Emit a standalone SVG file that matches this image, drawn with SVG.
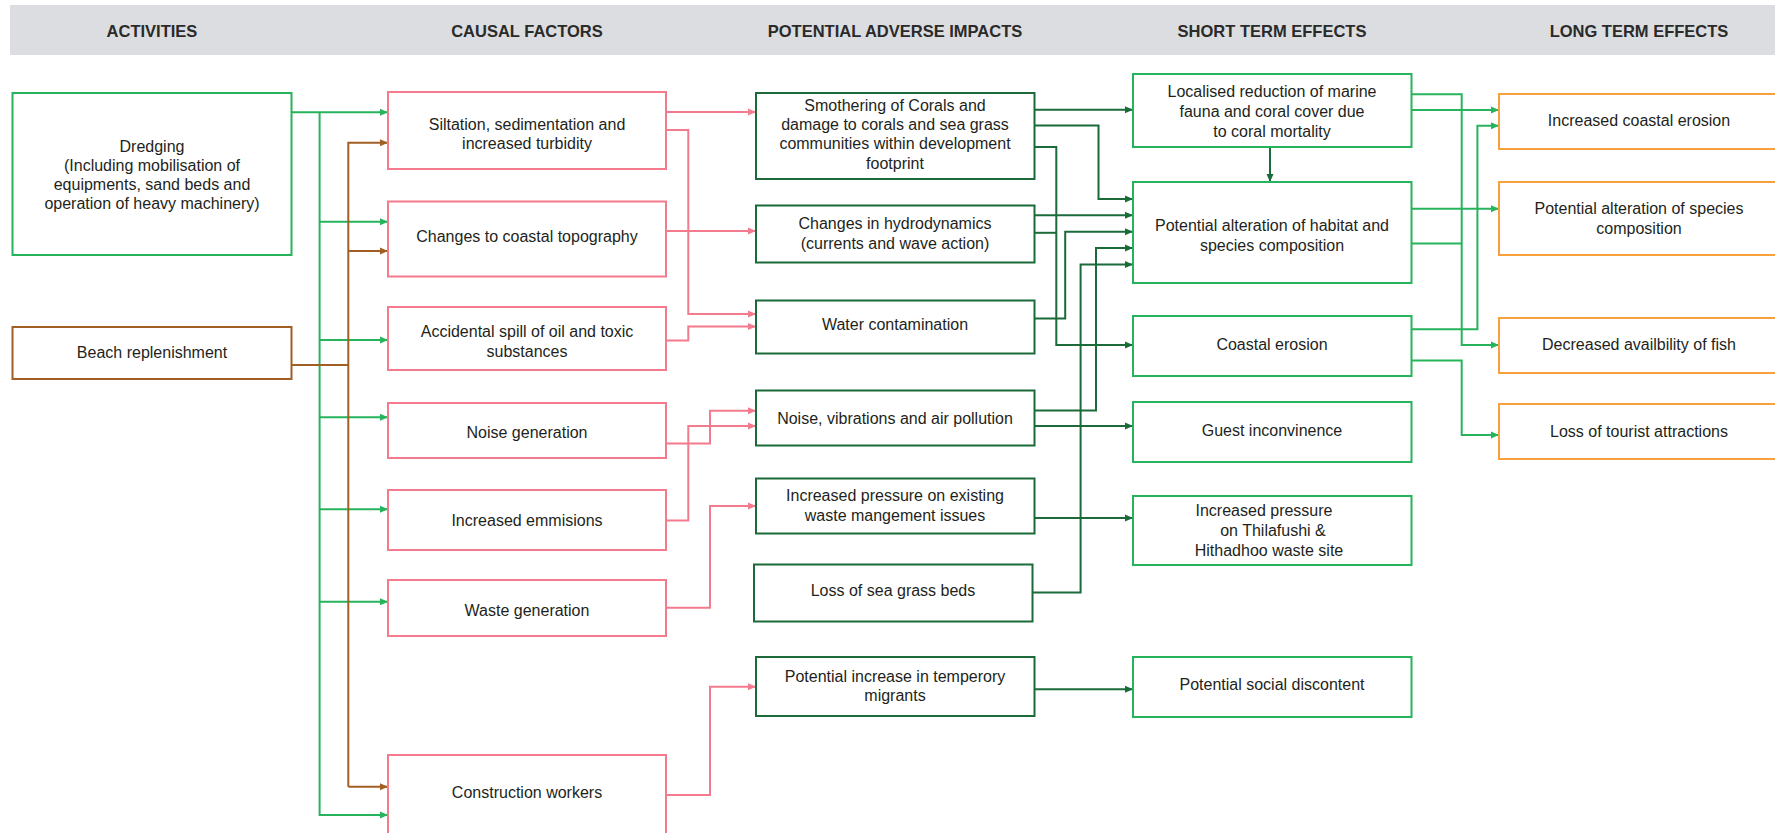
<svg xmlns="http://www.w3.org/2000/svg" width="1775" height="833" viewBox="0 0 1775 833">
<defs>
<style>
.t{font-family:"Liberation Sans",Arial,sans-serif;font-size:16px;fill:#231f20;text-anchor:middle}
.h{font-family:"Liberation Sans",Arial,sans-serif;font-size:16.5px;font-weight:bold;fill:#2a2a2a;text-anchor:middle}
.b{fill:#fff;stroke-width:2}
.act{stroke:#27b35b}
.beach{stroke:#a25f24}
.cf{stroke:#f47b8e}
.im{stroke:#1b6b3a}
.st{stroke:#27b35b}
.lt{stroke:#f7a03c}
.c{fill:none;stroke-width:2}
.cg{stroke:#27b35b}
.cb{stroke:#a25f24}
.cp{stroke:#f47b8e}
.cd{stroke:#1b6b3a}
</style>
<marker id="ag" markerUnits="userSpaceOnUse" markerWidth="8" markerHeight="8" refX="8" refY="4" orient="auto"><path d="M0,0.5 L8,4 L0,7.5 z" fill="#27b35b"/></marker>
<marker id="ab" markerUnits="userSpaceOnUse" markerWidth="8" markerHeight="8" refX="8" refY="4" orient="auto"><path d="M0,0.5 L8,4 L0,7.5 z" fill="#a25f24"/></marker>
<marker id="ap" markerUnits="userSpaceOnUse" markerWidth="8" markerHeight="8" refX="8" refY="4" orient="auto"><path d="M0,0.5 L8,4 L0,7.5 z" fill="#f47b8e"/></marker>
<marker id="ad" markerUnits="userSpaceOnUse" markerWidth="8" markerHeight="8" refX="8" refY="4" orient="auto"><path d="M0,0.5 L8,4 L0,7.5 z" fill="#1b6b3a"/></marker>
</defs>
<rect x="0" y="0" width="1775" height="833" fill="#fff"/>
<g id="header">
<rect x="10" y="5" width="1765" height="50" fill="#dcdde0"/>
<text class="h" x="152" y="36.7">ACTIVITIES</text>
<text class="h" x="527" y="36.7">CAUSAL FACTORS</text>
<text class="h" x="895" y="36.7">POTENTIAL ADVERSE IMPACTS</text>
<text class="h" x="1272" y="36.7">SHORT TERM EFFECTS</text>
<text class="h" x="1639" y="36.7">LONG TERM EFFECTS</text>
</g>
<g id="connectors">
<path class="c cg" d="M291.6,112.3 H388" marker-end="url(#ag)"/>
<path class="c cg" d="M319.6,112.3 V815 H388" marker-end="url(#ag)"/>
<path class="c cg" d="M319.6,221.7 H388" marker-end="url(#ag)"/>
<path class="c cg" d="M319.6,340 H388" marker-end="url(#ag)"/>
<path class="c cg" d="M319.6,417.3 H388" marker-end="url(#ag)"/>
<path class="c cg" d="M319.6,509.3 H388" marker-end="url(#ag)"/>
<path class="c cg" d="M319.6,601.7 H388" marker-end="url(#ag)"/>
<path class="c cb" d="M291.6,365 H348.3"/>
<path class="c cb" d="M348.3,786.7 V142.7 H388" marker-end="url(#ab)"/>
<path class="c cb" d="M348.3,251 H388" marker-end="url(#ab)"/>
<path class="c cb" d="M348.3,786.7 H388" marker-end="url(#ab)"/>
<path class="c cp" d="M666,112 H756" marker-end="url(#ap)"/>
<path class="c cp" d="M666,130 H688.3 V314 H756" marker-end="url(#ap)"/>
<path class="c cp" d="M666,231 H756" marker-end="url(#ap)"/>
<path class="c cp" d="M666,340.5 H688.3 V326.5 H756" marker-end="url(#ap)"/>
<path class="c cp" d="M666,443.5 H710 V410.7 H756" marker-end="url(#ap)"/>
<path class="c cp" d="M666,520.5 H688.3 V426 H756" marker-end="url(#ap)"/>
<path class="c cp" d="M666,607.7 H710 V506 H756" marker-end="url(#ap)"/>
<path class="c cp" d="M666,795 H710 V686.7 H756" marker-end="url(#ap)"/>
<path class="c cd" d="M1034.5,109.7 H1133" marker-end="url(#ad)"/>
<path class="c cd" d="M1034.5,125.5 H1098.5 V199 H1133" marker-end="url(#ad)"/>
<path class="c cd" d="M1034.5,147 H1056.3 V345 H1133" marker-end="url(#ad)"/>
<path class="c cd" d="M1034.5,215.3 H1133" marker-end="url(#ad)"/>
<path class="c cd" d="M1034.5,232.8 H1056.3"/>
<path class="c cd" d="M1034.5,318.5 H1065.2 V231.8 H1133" marker-end="url(#ad)"/>
<path class="c cd" d="M1034.5,410.6 H1096 V248 H1133" marker-end="url(#ad)"/>
<path class="c cd" d="M1032.5,592.5 H1080.6 V264.5 H1133" marker-end="url(#ad)"/>
<path class="c cd" d="M1034.5,426 H1133" marker-end="url(#ad)"/>
<path class="c cd" d="M1034.5,518 H1133" marker-end="url(#ad)"/>
<path class="c cd" d="M1034.5,689.3 H1133" marker-end="url(#ad)"/>
<path class="c cd" d="M1270,147 V182" marker-end="url(#ad)"/>
<path class="c cg" d="M1411.5,94.3 H1461.7 V345 H1499" marker-end="url(#ag)"/>
<path class="c cg" d="M1411.5,110 H1499" marker-end="url(#ag)"/>
<path class="c cg" d="M1411.5,208.7 H1499" marker-end="url(#ag)"/>
<path class="c cg" d="M1411.5,243.5 H1461.7"/>
<path class="c cg" d="M1411.5,329.3 H1477.4 V125.8 H1499" marker-end="url(#ag)"/>
<path class="c cg" d="M1411.5,360.5 H1461.7 V435 H1499" marker-end="url(#ag)"/>
</g>
<g id="dredging"><rect class="b act" x="12.5" y="93" width="279" height="162"/>
<text class="t" x="152" y="152">Dredging</text><text class="t" x="152" y="171">(Including mobilisation of</text><text class="t" x="152" y="190">equipments, sand beds and</text><text class="t" x="152" y="209">operation of heavy machinery)</text></g>
<g id="beach"><rect class="b beach" x="12.5" y="327" width="279" height="52"/>
<text class="t" x="152" y="357.8">Beach replenishment</text></g>
<g id="siltation"><rect class="b cf" x="388" y="92" width="278" height="77"/>
<text class="t" x="527" y="129.5">Siltation, sedimentation and</text><text class="t" x="527" y="148.5">increased turbidity</text></g>
<g id="topography"><rect class="b cf" x="388" y="201.5" width="278" height="75"/>
<text class="t" x="527" y="242">Changes to coastal topography</text></g>
<g id="spill"><rect class="b cf" x="388" y="307" width="278" height="63"/>
<text class="t" x="527" y="336.5">Accidental spill of oil and toxic</text><text class="t" x="527" y="356.5">substances</text></g>
<g id="noisegen"><rect class="b cf" x="388" y="403" width="278" height="55"/>
<text class="t" x="527" y="437.8">Noise generation</text></g>
<g id="emissions"><rect class="b cf" x="388" y="490" width="278" height="60"/>
<text class="t" x="527" y="525.5">Increased emmisions</text></g>
<g id="wastegen"><rect class="b cf" x="388" y="580" width="278" height="56"/>
<text class="t" x="527" y="615.5">Waste generation</text></g>
<g id="workers"><rect class="b cf" x="388" y="755" width="278" height="100"/>
<text class="t" x="527" y="797.8">Construction workers</text></g>
<g id="smothering"><rect class="b im" x="756" y="93" width="278.5" height="86"/>
<text class="t" x="895" y="110.5">Smothering of Corals and</text><text class="t" x="895" y="129.9">damage to corals and sea grass</text><text class="t" x="895" y="149.3">communities within development</text><text class="t" x="895" y="168.7">footprint</text></g>
<g id="hydrodynamics"><rect class="b im" x="756" y="205.5" width="278.5" height="57"/>
<text class="t" x="895" y="228.8">Changes in hydrodynamics</text><text class="t" x="895" y="248.8">(currents and wave action)</text></g>
<g id="water"><rect class="b im" x="756" y="300.5" width="278.5" height="53"/>
<text class="t" x="895" y="329.8">Water contamination</text></g>
<g id="noisevib"><rect class="b im" x="756" y="390.5" width="278.5" height="55"/>
<text class="t" x="895" y="423.8">Noise, vibrations and air pollution</text></g>
<g id="wastemgmt"><rect class="b im" x="756" y="478.5" width="278.5" height="55"/>
<text class="t" x="895" y="501.2">Increased pressure on existing</text><text class="t" x="895" y="520.5">waste mangement issues</text></g>
<g id="seagrass"><rect class="b im" x="754" y="564.5" width="278.5" height="57"/>
<text class="t" x="893" y="595.5">Loss of sea grass beds</text></g>
<g id="migrants"><rect class="b im" x="756" y="657" width="278.5" height="59"/>
<text class="t" x="895" y="681.5">Potential increase in temperory</text><text class="t" x="895" y="701.2">migrants</text></g>
<g id="localised"><rect class="b st" x="1133" y="74" width="278.5" height="73"/>
<text class="t" x="1272" y="96.5">Localised reduction of marine</text><text class="t" x="1272" y="116.5">fauna and coral cover due</text><text class="t" x="1272" y="136.5">to coral mortality</text></g>
<g id="habitat"><rect class="b st" x="1133" y="182" width="278.5" height="101"/>
<text class="t" x="1272" y="231.2">Potential alteration of habitat and</text><text class="t" x="1272" y="251.2">species composition</text></g>
<g id="coastalerosion"><rect class="b st" x="1133" y="316" width="278.5" height="60"/>
<text class="t" x="1272" y="349.5">Coastal erosion</text></g>
<g id="guest"><rect class="b st" x="1133" y="402" width="278.5" height="60"/>
<text class="t" x="1272" y="435.5">Guest inconvinence</text></g>
<g id="thilafushi"><rect class="b st" x="1133" y="496" width="278.5" height="69"/>
<text class="t" x="1264" y="516.2">Increased pressure</text><text class="t" x="1273" y="536.2">on Thilafushi &amp;</text><text class="t" x="1269" y="556.2">Hithadhoo waste site</text></g>
<g id="social"><rect class="b st" x="1133" y="657" width="278.5" height="60"/>
<text class="t" x="1272" y="689.8">Potential social discontent</text></g>
<g id="increasederosion"><rect class="b lt" x="1499" y="94" width="280" height="55"/>
<text class="t" x="1639" y="125.5">Increased coastal erosion</text></g>
<g id="species"><rect class="b lt" x="1499" y="182" width="280" height="73"/>
<text class="t" x="1639" y="213.8">Potential alteration of species</text><text class="t" x="1639" y="233.8">composition</text></g>
<g id="fish"><rect class="b lt" x="1499" y="318" width="280" height="55"/>
<text class="t" x="1639" y="349.5">Decreased availbility of fish</text></g>
<g id="tourist"><rect class="b lt" x="1499" y="404" width="280" height="55"/>
<text class="t" x="1639" y="437.2">Loss of tourist attractions</text></g>
</svg>
